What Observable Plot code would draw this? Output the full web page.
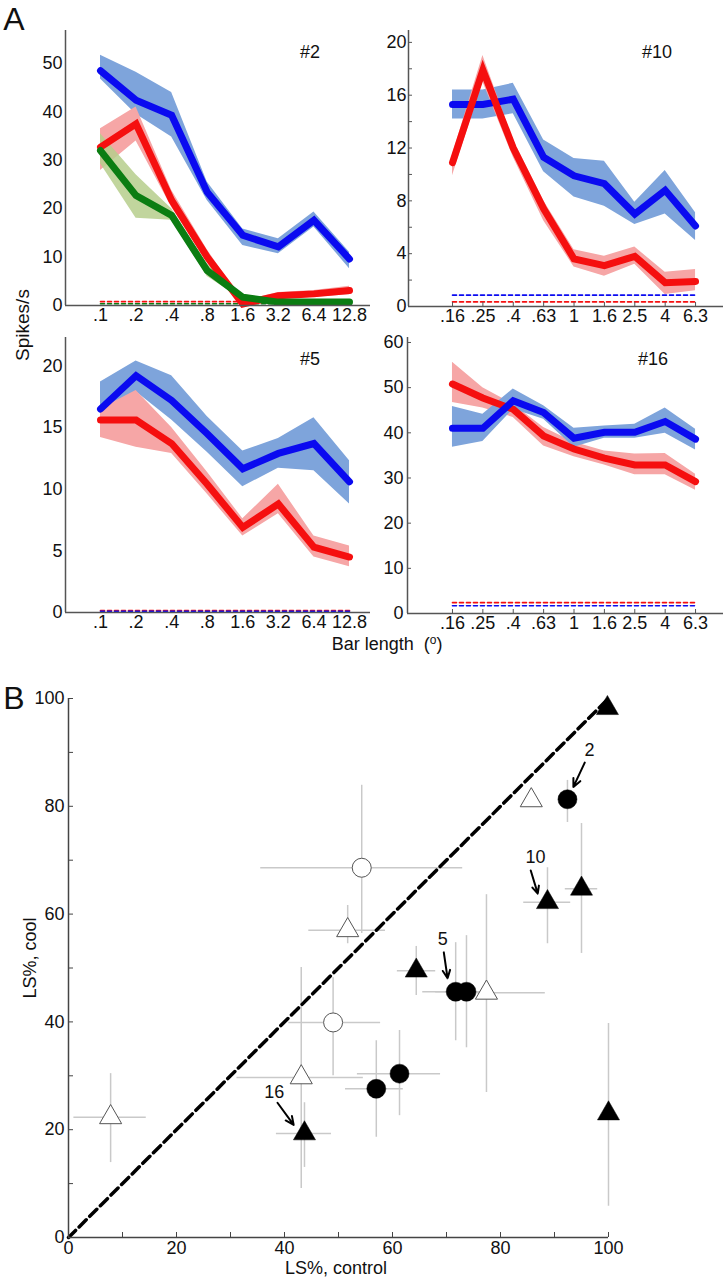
<!DOCTYPE html>
<html><head><meta charset="utf-8">
<script src="https://cdn.jsdelivr.net/npm/d3@7"></script>
<script src="https://cdn.jsdelivr.net/npm/@observablehq/plot@0.6"></script>
<style>
body{margin:0;background:#fff;}
#root{position:relative;width:724px;height:1280px;overflow:hidden;font-family:"Liberation Sans",Arial,sans-serif;color:#111;background:#fff;}
#root svg{overflow:visible;max-width:none;}
.panel{position:absolute;}
.lbl{position:absolute;font-size:18px;white-space:nowrap;line-height:1;}
</style></head><body><div id="root"></div>
<script>
// ---------- DATA ----------
const lengthsA = [".1", ".2", ".4", ".8", "1.6", "3.2", "6.4", "12.8"];
const lengthsB = [".16", ".25", ".4", ".63", "1", "1.6", "2.5", "4", "6.3"];

// Cell #2
const blue2   = [48.5, 42.4, 39.3, 23.4, 14.5, 12.1, 17.6, 9.6];
const blue2Lo = [46.8, 39.5, 34.8, 21.7, 12.4, 10.7, 16.2, 7.6];
const blue2Hi = [51.7, 48.2, 44.0, 25.5, 15.8, 13.8, 19.3, 11.0];
const red2    = [32.7, 37.5, 21.7, 10.0, 0.3, 2.0, 2.4, 3.1];
const red2Lo  = [27.9, 34.0, 20.3, 8.8, 0.0, 1.3, 1.7, 2.2];
const red2Hi  = [36.5, 41.0, 23.8, 11.5, 0.9, 2.7, 3.1, 4.0];
const green2   = [32.0, 22.7, 18.6, 7.2, 1.7, 0.7, 0.7, 0.7];
const green2Lo = [29.3, 18.0, 17.6, 6.0, 1.2, 0.4, 0.4, 0.4];
const green2Hi = [35.5, 27.0, 20.0, 8.5, 2.3, 1.0, 1.0, 1.0];
const base2 = {red: 0.8, green: 0.35};

// Cell #10
const blue10   = [15.3, 15.3, 15.7, 11.3, 9.9, 9.3, 7.0, 8.8, 6.1];
const blue10Lo = [14.2, 14.2, 14.6, 10.2, 8.3, 7.6, 6.2, 7.0, 5.0];
const blue10Hi = [16.4, 16.4, 16.9, 12.6, 11.2, 11.0, 7.9, 10.3, 7.1];
const red10    = [10.9, 17.9, 12.0, 7.4, 3.6, 3.1, 3.8, 1.8, 1.9];
const red10Lo  = [9.9, 17.0, 11.3, 6.5, 3.0, 2.3, 3.2, 0.9, 1.2];
const red10Hi  = [11.5, 19.0, 12.6, 8.0, 4.3, 3.8, 4.5, 2.6, 2.8];
const base10 = {blue: 0.86, red: 0.35};

// Cell #5
const blue5   = [16.5, 19.2, 17.2, 14.5, 11.65, 12.9, 13.7, 10.6];
const blue5Lo = [14.2, 17.9, 15.6, 13.0, 10.2, 11.7, 11.5, 8.8];
const blue5Hi = [18.7, 20.4, 19.2, 15.9, 13.1, 14.1, 15.8, 12.3];
const red5    = [15.6, 15.6, 13.7, 10.4, 6.9, 8.8, 5.3, 4.5];
const red5Lo  = [14.2, 13.4, 12.9, 9.6, 6.2, 8.0, 4.5, 3.7];
const red5Hi  = [16.5, 18.0, 15.0, 11.4, 7.6, 10.4, 6.2, 5.4];
const base5 = {red: 0.15, blue: 0.1};

// Cell #16
const blue16   = [41.0, 41.0, 47.1, 44.5, 38.8, 40.1, 40.1, 42.5, 38.6];
const blue16Lo = [36.8, 38.1, 45.2, 43.0, 36.8, 38.8, 38.8, 39.9, 36.2];
const blue16Hi = [45.8, 44.1, 49.7, 46.0, 41.0, 41.5, 41.9, 45.5, 40.8];
const red16    = [50.8, 47.7, 45.2, 39.3, 36.4, 34.4, 32.9, 32.9, 29.2];
const red16Lo  = [46.7, 45.5, 43.4, 37.1, 34.7, 32.9, 30.7, 30.7, 27.3];
const red16Hi  = [55.6, 50.0, 46.3, 41.2, 37.9, 36.0, 35.3, 35.4, 30.8];
const base16 = {red: 2.4, blue: 1.7};

// Panel B: LS% control vs cool
const lsControl = [99.8, 85.7, 92.4, 88.7, 95.0, 100, 54.3, 51.7, 64.4, 71.7, 73.7, 77.4, 49.0, 43.1, 57.0, 61.3, 43.7, 7.8];
const lsCool    = [98.2, 81.1, 81.3, 62.2, 64.7, 23.0, 68.6, 57.0, 49.5, 45.6, 45.6, 45.4, 39.9, 29.7, 27.6, 30.4, 19.3, 22.3];
const ctrlLo = [null, null, null, 84.3, 92.0, null, 35.6, 44.5, 60.9, 65.6, 68.0, 72.0, 40.8, 31.2, 51.3, 53.5, 38.5, 1.0];
const ctrlHi = [null, null, null, 93.0, 98.0, null, 73.0, 58.7, 68.0, 76.0, 78.0, 88.3, 57.8, 54.6, 62.0, 68.9, 48.7, 14.4];
const coolLo = [null, null, 77.0, 54.5, 52.7, 5.8, 56.4, 54.5, 44.9, 36.5, 35.2, 26.9, 30.0, 9.1, 18.6, 22.6, 13.0, 13.9];
const coolHi = [null, null, 84.8, 68.6, 76.8, 39.7, 83.9, 61.6, 54.0, 54.7, 56.0, 63.6, 48.2, 50.1, 36.5, 38.4, 25.0, 30.4];
const shape  = ["triangle","triangle","circle","triangle","triangle","triangle","circle","triangle","triangle","circle","circle","triangle","circle","triangle","circle","circle","triangle","triangle"];
const filled = [true, false, true, true, true, true, false, false, true, true, true, false, false, false, true, true, true, false];
const noteText = ["2", "10", "5", "16"];
const noteX    = [96.5, 86.5, 69.3, 38.1];
const noteY    = [90.4, 70.5, 55.3, 26.9];
const arrowX1  = [95.6, 85.6, 69.5, 38.7];
const arrowY1  = [88.1, 68.1, 52.9, 25.0];
const arrowX2  = [93.5, 86.9, 70.2, 41.7];
const arrowY2  = [83.6, 63.8, 48.1, 20.9];

// ---------- STYLE ----------
const C = {
  blue: "#0a0af0", blueBand: "#7ea4db",
  red: "#f50f0f", redBand: "#f6a6a6",
  green: "#0b7d12", greenBand: "#b6ce8c",
  axis: "#555"
};
const FONT = '"Liberation Sans", Arial, sans-serif';
const root = document.getElementById("root");

function place(node, left, top) {
  node.classList.add("panel");
  node.style.left = left + "px";
  node.style.top = top + "px";
  node.style.background = "transparent";
  root.appendChild(node);
}
function label(text, left, top, opts = {}) {
  const d = document.createElement("div");
  d.className = "lbl";
  d.innerHTML = text;
  d.style.left = left + "px";
  d.style.top = top + "px";
  d.style.fontSize = (opts.size || 18) + "px";
  d.style.transform = "translate(-50%,-50%)" + (opts.rotate ? " rotate(-90deg)" : "");
  root.appendChild(d);
}

function linePanel(cfg) {
  const n = cfg.cats.length;
  const idx = d3.range(n);
  const marks = [];
  for (const b of cfg.bands)
    marks.push(Plot.areaY(idx, {x: i => i, y1: i => b.lo[i], y2: i => b.hi[i], fill: b.color, fillOpacity: b.opacity ?? 1, curve: "linear"}));
  for (const bl of cfg.bases)
    marks.push(Plot.line(idx, {x: i => i, y: () => bl.v, stroke: bl.color, strokeWidth: 1.6, strokeDasharray: "4,3"}));
  for (const l of cfg.lines)
    marks.push(Plot.line(idx, {x: i => i, y: i => l.v[i], stroke: l.color, strokeWidth: 7, strokeLinejoin: "miter", strokeMiterlimit: 4}));
  if (cfg.inTicks) {
    const pw = cfg.width - cfg.ml - cfg.mr, ph = cfg.height - cfg.mt - cfg.mb;
    marks.push(Plot.tickY(cfg.inTicks, {y: d => d, stroke: C.axis, insetRight: pw - 4}));
    marks.push(Plot.tickX(idx, {x: i => i, stroke: C.axis, insetTop: ph - 4}));
  }
  marks.push(Plot.ruleX([cfg.xDomain[0]], {stroke: C.axis, strokeWidth: 1.5}));
  marks.push(Plot.ruleY([0], {stroke: C.axis, strokeWidth: 1.5}));
  marks.push(Plot.axisY({ticks: cfg.yTicks, tickSize: 0, tickPadding: cfg.pad, fontSize: 18, label: null, tickFormat: d => String(d)}));
  marks.push(Plot.axisX({ticks: idx, tickFormat: i => cfg.cats[i], tickSize: 0, tickPadding: 3, fontSize: 18, label: null}));
  const p = Plot.plot({
    width: cfg.width, height: cfg.height,
    marginLeft: cfg.ml, marginRight: cfg.mr, marginTop: cfg.mt, marginBottom: cfg.mb,
    x: {type: "linear", domain: cfg.xDomain, label: null},
    y: {domain: cfg.yDomain, label: null},
    style: {fontFamily: FONT, fontSize: "18px", color: "#111", background: "transparent"},
    marks
  });
  place(p, cfg.left, cfg.top);
}

// #2
linePanel({
  left: 0, top: 0, width: 372, height: 330, ml: 65, mr: 2, mt: 30, mb: 25, pad: 3,
  cats: lengthsA, xDomain: [-0.984, 7.59], yDomain: [0, 56.8], yTicks: [0, 10, 20, 30, 40, 50],
  bands: [
    {lo: blue2Lo, hi: blue2Hi, color: C.blueBand},
    {lo: red2Lo, hi: red2Hi, color: C.redBand},
    {lo: green2Lo, hi: green2Hi, color: C.greenBand, opacity: 0.85}
  ],
  bases: [{v: base2.red, color: C.red}, {v: base2.green, color: C.green}],
  lines: [{v: blue2, color: C.blue}, {v: red2, color: C.red}, {v: green2, color: C.green}]
});
// #10
linePanel({
  left: 360, top: 0, width: 364, height: 330, ml: 48, mr: 1, mt: 30, mb: 24, pad: 2,
  cats: lengthsB, xDomain: [-1.449, 8.92], yDomain: [0, 20.9], yTicks: [0, 4, 8, 12, 16, 20],
  inTicks: [2, 4, 6, 8, 10, 12, 14, 16, 18, 20],
  bands: [{lo: blue10Lo, hi: blue10Hi, color: C.blueBand}, {lo: red10Lo, hi: red10Hi, color: C.redBand}],
  bases: [{v: base10.blue, color: C.blue}, {v: base10.red, color: C.red}],
  lines: [{v: blue10, color: C.blue}, {v: red10, color: C.red}]
});
// #5
linePanel({
  left: 0, top: 320, width: 372, height: 320, ml: 65, mr: 2, mt: 17, mb: 28, pad: 3,
  cats: lengthsA, xDomain: [-0.984, 7.59], yDomain: [0, 22.3], yTicks: [0, 5, 10, 15, 20],
  bands: [{lo: blue5Lo, hi: blue5Hi, color: C.blueBand}, {lo: red5Lo, hi: red5Hi, color: C.redBand}],
  bases: [{v: base5.red, color: C.red}, {v: base5.blue, color: C.blue}],
  lines: [{v: red5, color: C.red}, {v: blue5, color: C.blue}]
});
// #16
linePanel({
  left: 360, top: 320, width: 364, height: 320, ml: 47, mr: 1, mt: 17, mb: 27, pad: 4,
  cats: lengthsB, xDomain: [-1.48, 8.92], yDomain: [0, 61.1], yTicks: [0, 10, 20, 30, 40, 50, 60],
  inTicks: [10, 20, 30, 40, 50, 60],
  bands: [{lo: red16Lo, hi: red16Hi, color: C.redBand}, {lo: blue16Lo, hi: blue16Hi, color: C.blueBand}],
  bases: [{v: base16.red, color: C.red}, {v: base16.blue, color: C.blue}],
  lines: [{v: red16, color: C.red}, {v: blue16, color: C.blue}]
});

label("A", 14, 19, {size: 32});
label("#2", 310, 52);
label("#10", 657, 52);
label("#5", 310, 359);
label("#16", 653, 359);
label("Spikes/s", 22, 325, {rotate: true, size: 19});
label('Bar length&nbsp; (<span style="font-size:12px;vertical-align:6px">o</span>)', 387, 643);

// ---------- Panel B ----------
{
  const pts = d3.range(lsControl.length);
  const W = 724, H = 600, ml = 68, mr = 116, mt = 18, mb = 43;
  const pw = W - ml - mr, ph = H - mt - mb;
  const grey = "#c9c9c9";
  const sel = (sh, f) => pts.filter(i => shape[i] === sh && filled[i] === f);
  const notes = d3.range(noteText.length);
  const p = Plot.plot({
    width: W, height: H, marginLeft: ml, marginRight: mr, marginTop: mt, marginBottom: mb,
    x: {domain: [0, 100], label: null},
    y: {domain: [0, 100], label: null},
    style: {fontFamily: FONT, fontSize: "18px", color: "#111", background: "transparent"},
    marks: [
      Plot.ruleX(pts.filter(i => coolLo[i] != null), {x: i => lsControl[i], y1: i => coolLo[i], y2: i => coolHi[i], stroke: grey, strokeWidth: 1.5}),
      Plot.ruleY(pts.filter(i => ctrlLo[i] != null), {y: i => lsCool[i], x1: i => ctrlLo[i], x2: i => ctrlHi[i], stroke: grey, strokeWidth: 1.5}),
      Plot.line([0, 100], {x: d => d, y: d => d, stroke: "#000", strokeWidth: 3.5, strokeDasharray: "10,5"}),
      Plot.tickX(d3.range(10, 101, 10), {x: d => d, stroke: "#444", insetTop: ph - 5}),
      Plot.tickY(d3.range(10, 101, 10), {y: d => d, stroke: "#444", insetRight: pw - 5}),
      Plot.ruleX([0], {stroke: "#444", strokeWidth: 1.5}),
      Plot.ruleY([0], {stroke: "#444", strokeWidth: 1.5}),
      Plot.dot(sel("circle", true), {x: i => lsControl[i], y: i => lsCool[i], r: 9.5, fill: "#000", stroke: "#000", strokeWidth: 0.5}),
      Plot.dot(sel("circle", false), {x: i => lsControl[i], y: i => lsCool[i], r: 9.5, fill: "#fff", stroke: "#555", strokeWidth: 1}),
      Plot.dot(sel("triangle", true), {x: i => lsControl[i], y: i => lsCool[i], r: 8.2, symbol: "triangle", fill: "#000", stroke: "#000", strokeWidth: 0.5}),
      Plot.dot(sel("triangle", false), {x: i => lsControl[i], y: i => lsCool[i], r: 8.2, symbol: "triangle", fill: "#fff", stroke: "#555", strokeWidth: 1}),
      Plot.arrow(notes, {x1: i => arrowX1[i], y1: i => arrowY1[i], x2: i => arrowX2[i], y2: i => arrowY2[i], stroke: "#000", strokeWidth: 2, headLength: 9, headAngle: 50}),
      Plot.text(notes, {x: i => noteX[i], y: i => noteY[i], text: i => noteText[i], fontSize: 18, fill: "#111"}),
      Plot.axisX({ticks: [0, 20, 40, 60, 80, 100], tickSize: 0, tickPadding: 4, fontSize: 18, label: null}),
      Plot.axisY({ticks: [0, 20, 40, 60, 80, 100], tickSize: 0, tickPadding: 4, fontSize: 18, label: null})
    ]
  });
  place(p, 0, 680);
  label("B", 14, 698, {size: 32});
  label("LS%, control", 336, 1268);
  label("LS%, cool", 30, 958, {rotate: true});
}
</script>
</body></html>
